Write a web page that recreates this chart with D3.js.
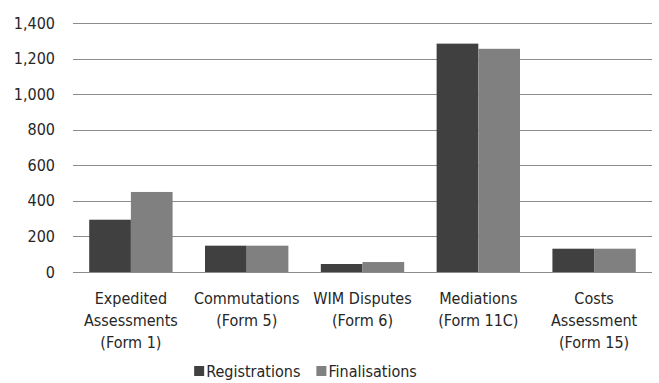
<!DOCTYPE html>
<html>
<head>
<meta charset="utf-8">
<script src="https://cdn.jsdelivr.net/npm/d3@7"></script>
<style>
  html, body { margin: 0; padding: 0; background: #fff; }
  text { font-family: "Liberation Sans Narrow", "DejaVu Sans Condensed", "Roboto Condensed", sans-serif; fill: #262626; }
</style>
</head>
<body>
<svg id="chart" width="659" height="383"></svg>
<script>
// Category labels (one entry per line)
const categories = [
  ["Expedited", "Assessments", "(Form 1)"],
  ["Commutations", "(Form 5)"],
  ["WIM Disputes", "(Form 6)"],
  ["Mediations", "(Form 11C)"],
  ["Costs", "Assessment", "(Form 15)"]
];
const seriesNames = ["Registrations", "Finalisations"];
const registrations = [294, 148, 45, 1284, 131];
const finalisations = [450, 148, 56, 1255, 131];
const yTicks = [0, 200, 400, 600, 800, 1000, 1200, 1400];
const colors = ["#404040", "#808080"];

const svg = d3.select("#chart");
const margin = { left: 73, right: 7, top: 23, bottom: 111 };
const width = 659, height = 383;

const x0 = d3.scaleBand()
  .domain(d3.range(categories.length))
  .range([margin.left, width - margin.right])
  .paddingInner(0.28)
  .paddingOuter(0.14);
const x1 = d3.scaleBand().domain([0, 1]).range([0, x0.bandwidth()]);
const y = d3.scaleLinear().domain([0, 1400]).range([height - margin.bottom, margin.top]);

// Horizontal gridlines
svg.append("g")
  .selectAll("line")
  .data(yTicks)
  .join("line")
  .attr("x1", margin.left)
  .attr("x2", width - margin.right)
  .attr("y1", d => Math.round(y(d)) + 0.5)
  .attr("y2", d => Math.round(y(d)) + 0.5)
  .attr("stroke", "#8c8c8c")
  .attr("stroke-width", 1);

// Y axis labels
const yAxis = d3.axisLeft(y).tickValues(yTicks).tickFormat(d3.format(",")).tickSize(0).tickPadding(18);
const yg = svg.append("g").attr("transform", `translate(${margin.left},0)`).call(yAxis);
yg.select(".domain").remove();
yg.selectAll("text").style("font-size", "16px").style("font-family", null);

// Bars
const data = categories.map((c, i) => [registrations[i], finalisations[i]]);
const groups = svg.append("g")
  .selectAll("g")
  .data(data)
  .join("g")
  .attr("transform", (d, i) => `translate(${x0(i)},0)`);
groups.selectAll("rect")
  .data(d => d)
  .join("rect")
  .attr("x", (d, j) => x1(j))
  .attr("y", d => y(d))
  .attr("width", x1.bandwidth())
  .attr("height", d => y(0) - y(d))
  .attr("fill", (d, j) => colors[j]);

// Redraw baseline over bars
svg.append("line")
  .attr("x1", margin.left).attr("x2", width - margin.right)
  .attr("y1", Math.round(y(0)) + 0.5).attr("y2", Math.round(y(0)) + 0.5)
  .attr("stroke", "#8c8c8c");

// Category labels
const labels = svg.append("g")
  .selectAll("text")
  .data(categories)
  .join("text")
  .attr("text-anchor", "middle")
  .attr("x", (d, i) => x0(i) + x0.bandwidth() / 2)
  .attr("y", 304)
  .style("font-size", "16px");
labels.selectAll("tspan")
  .data(d => d)
  .join("tspan")
  .attr("x", function () { return d3.select(this.parentNode).attr("x"); })
  .attr("dy", (d, k) => k === 0 ? 0 : 22)
  .text(d => d);

// Legend, centred below the plot
const lg = svg.append("g");
const items = seriesNames.map((name, j) => {
  const g = lg.append("g");
  g.append("rect").attr("x", 0).attr("y", 366).attr("width", 10).attr("height", 10).attr("fill", colors[j]);
  const t = g.append("text").attr("x", 12).attr("y", 377).style("font-size", "16px").text(name);
  return { g, w: 12 + t.node().getComputedTextLength() };
});
const gap = 16;
const total = d3.sum(items, d => d.w) + gap * (items.length - 1);
let cx = 305.5 - total / 2;
items.forEach(it => {
  it.g.attr("transform", `translate(${cx},0)`);
  cx += it.w + gap;
});
</script>
</body>
</html>
